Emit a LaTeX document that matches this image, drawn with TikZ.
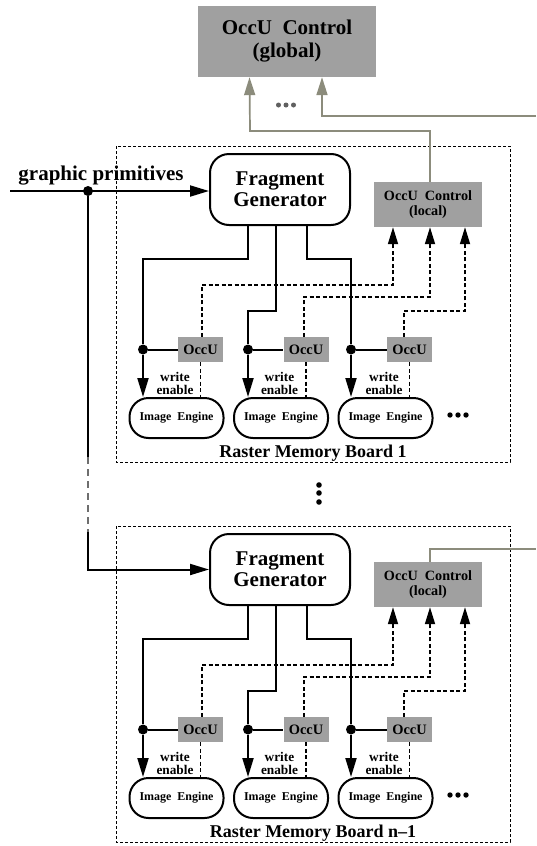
\documentclass[tikz,border=0pt]{standalone}
\usepackage{fontspec}
\setmainfont{Liberation Serif}
\usetikzlibrary{arrows.meta,calc}
\definecolor{boxgray}{RGB}{160,160,160}
\definecolor{olivegray}{RGB}{140,140,124}
\definecolor{dotgray}{RGB}{96,96,96}
\definecolor{vgray}{RGB}{110,110,110}
\tikzset{
  ln/.style={line width=2pt, black},
  dln/.style={line width=1.7pt, black, dash pattern=on 4pt off 2.5pt},
  gln/.style={line width=1.7pt, draw=olivegray},
  gdash/.style={line width=1.7pt, draw=vgray, dash pattern=on 7pt off 5pt},
  tip/.style={-{Triangle[length=19pt,width=11pt]}},
  dtip/.style={-{Triangle[length=17pt,width=10pt]}},
  gtip/.style={-{Triangle[length=18pt,width=11pt,fill=olivegray]}},
  board/.style={line width=0.8pt, dash pattern=on 3pt off 2pt},
  globbox/.style={fill=boxgray, minimum width=178pt, minimum height=71pt, inner sep=0pt, align=center,
     font=\fontsize{21}{23}\selectfont\bfseries},
  fgbox/.style={draw, fill=white, line width=2pt, rounded corners=19pt, minimum width=140pt, minimum height=71pt,
     inner sep=0pt, align=center, font=\fontsize{21}{21}\selectfont\bfseries},
  locbox/.style={fill=boxgray, minimum width=108pt, minimum height=45pt, inner sep=0pt, align=center,
     font=\fontsize{14.2}{14.5}\selectfont\bfseries},
  occbox/.style={fill=boxgray, minimum width=45pt, minimum height=25pt, inner sep=0pt,
     font=\fontsize{14.4}{15}\selectfont\bfseries},
  iebox/.style={draw, fill=white, line width=2pt, rounded corners=19pt, minimum width=94pt, minimum height=40pt,
     inner sep=0pt, font=\fontsize{12}{13}\selectfont\bfseries},
  jdot/.style={circle, fill=black, inner sep=0pt, minimum size=10pt},
  welabel/.style={align=center, inner sep=0pt, font=\fontsize{13.3}{13}\selectfont\bfseries},
  rlabel/.style={inner sep=0pt, font=\fontsize{18}{20}\selectfont\bfseries},
  gplabel/.style={inner sep=0pt, font=\fontsize{21}{23}\selectfont\bfseries},
}
\begin{document}
\begin{tikzpicture}[x=1pt,y=-1pt]
\fill[white] (0,0) rectangle (536,846);
\useasboundingbox (0,0) rectangle (536,846);

% global control
\node[globbox] (glob) at (287,41.5) {OccU~~Control\\(global)};
\foreach \xx in {278.5,286,293.5} \fill[dotgray] (\xx,105) circle (2.5pt);

% boards
\foreach \bd/\dy/\lbl in {1/0/1, 2/380/n--1} {
\begin{scope}[shift={(0,\dy)}]
  \draw[board] (116,146) rectangle (510,462);
  \node[fgbox] (fg\bd) at (280,189.5) {Fragment\\Generator};
  \node[locbox] (loc\bd) at (428,204.5) {OccU~~Control\\(local)};
  \foreach \k/\ox/\ix/\jx in {a/200.5/176.5/143, b/306/281/248, c/409.5/385.5/351} {
    \node[occbox] (occ\bd\k) at (\ox,349.5) {OccU};
    \node[iebox] (ie\bd\k) at (\ix,418) {Image~~Engine};
    \node[jdot] (j\bd\k) at (\jx,349.5) {};
    \node[welabel] at ({\ix-1.5},383) {write\\enable};
  }
  \draw[ln] ([xshift=-32pt]fg\bd.south) |- (143,259) -- (j\bd a);
  \draw[ln] ([xshift=-4pt]fg\bd.south) |- (248,311) -- (j\bd b);
  \draw[ln] ([xshift=27pt]fg\bd.south) |- (351,259) -- (j\bd c);
  \foreach \k in {a,b,c} {
    \draw[ln, tip] (j\bd\k) -- (j\bd\k |- ie\bd\k.north);
    \draw[ln] (j\bd\k) -- (occ\bd\k);
    \draw[dln] (occ\bd\k.south) -- (occ\bd\k.south |- ie\bd\k.north);
  }
  \draw[dln, dtip] ([xshift=1.5pt]occ\bd a.north) |- (393,285) -- ([xshift=-35pt]loc\bd.south);
  \draw[dln, dtip] ([xshift=-2pt]occ\bd b.north) |- (430,297) -- ([xshift=2pt]loc\bd.south);
  \draw[dln, dtip] ([xshift=-5.5pt]occ\bd c.north) |- (465,311) -- ([xshift=37pt]loc\bd.south);
  \foreach \xx in {450,458,466} \fill (\xx,415) circle (2.7pt);
  \node[rlabel, anchor=base] at (313,457) {Raster Memory Board \lbl};
\end{scope}
}

% gray links to global control
\coordinate (e1) at (536,116);
\coordinate (e2) at (536,549);
\draw[gln, gtip] ([xshift=2pt]loc1.north) |- (250,131) -- ([xshift=-37.5pt]glob.south);
\draw[gln, gtip] (e1) -| ([xshift=35pt]glob.south);
\draw[gln] ([xshift=2pt]loc2.north) |- (e2);

% graphic primitives input
\node[gplabel, anchor=base] (gp) at (101,180) {graphic primitives};
\coordinate (gin) at (10,191);
\node[jdot] (jin) at (88,191) {};
\draw[ln, tip] (gin) -- (gin -| fg1.west);
\coordinate (v1) at (88,457);
\coordinate (v2) at (88,532);
\draw[ln] (jin) -- (v1);
\draw[gdash] (v1) -- (v2);
\draw[ln, tip] (v2) |- (fg2.west);

% vertical dots between boards
\foreach \yy in {485,493,502} \fill (319,\yy) circle (2.8pt);
\end{tikzpicture}
\end{document}
